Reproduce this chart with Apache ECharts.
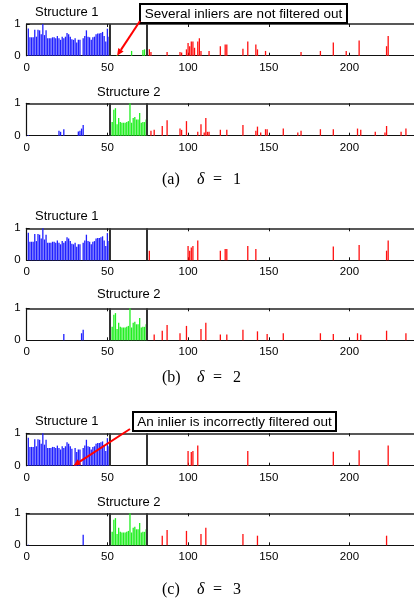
<!DOCTYPE html>
<html><head><meta charset="utf-8">
<script src="https://cdn.jsdelivr.net/npm/echarts@6/dist/echarts.min.js"></script>
<style>html,body{margin:0;padding:0;background:#fff}#c{width:414px;height:605px}</style>
</head><body><div id="c"></div>
<script>
// ---------- data ----------
const xTickLabels = [0, 50, 100, 150, 200];
const yTickLabels = [0, 1];
const titles = ['Structure 1', 'Structure 2'];
const captions = ['(a)', '(b)', '(c)'];
const deltas = [1, 2, 3];

// scores of points 1..51 for structure 1
const s1Blue = [0.86,0.58,0.58,0.58,0.82,0.6,0.82,0.8,0.68,1.0,0.65,0.8,0.55,0.55,0.55,0.58,0.58,0.55,0.62,0.55,0.5,0.6,0.55,0.6,0.72,0.68,0.6,0.52,0.5,0.55,0.42,0.5,0.5,0,0.55,0.62,0.8,0.6,0.58,0.5,0.58,0.6,0.68,0.7,0.7,0.72,0.75,0.62,0.45,0.85,0.6];
// points 52..74 for structure 2
const s2Green = [0.42,0.42,0.8,0.85,0.35,0.55,0.42,0.4,0.4,0.4,0.42,0.45,1.0,0.4,0.55,0.58,0.5,0.5,0.7,0.4,0.42,0.42,0.5];

// (a) delta = 1
const aTopIdx = [56,65,72,73,76,77,87,95,96,99,100,101,102,103,104,106,107,108,113,120,123,124,134,137,142,143,148,170,182,190,198,206,223,224];
const aTopVal = [0.02,0.15,0.18,0.2,0.2,0.12,0.12,0.12,0.1,0.2,0.4,0.3,0.45,0.45,0.25,0.45,0.55,0.15,0.15,0.3,0.35,0.35,0.22,0.45,0.35,0.2,0.15,0.12,0.15,0.42,0.15,0.48,0.3,0.62];
const aBotIdx = [1,20,21,23,32,33,34,35,77,79,84,87,95,96,99,106,108,110,111,112,113,120,124,134,142,143,145,148,149,159,168,170,182,190,205,207,216,222,223,232,235];
const aBotVal = [0.02,0.15,0.12,0.2,0.13,0.15,0.22,0.33,0.15,0.18,0.3,0.48,0.22,0.18,0.45,0.12,0.35,0.1,0.55,0.12,0.12,0.18,0.18,0.33,0.15,0.28,0.1,0.2,0.2,0.22,0.1,0.15,0.2,0.2,0.22,0.18,0.12,0.1,0.3,0.12,0.22];

// (b) delta = 2
const bTopIdx = [76,100,101,102,103,106,120,123,124,137,142,190,206,223,224];
const bTopVal = [0.3,0.45,0.3,0.4,0.45,0.62,0.3,0.35,0.35,0.45,0.35,0.43,0.48,0.3,0.62];
const bBotIdx = [23,34,35,79,84,87,95,99,108,111,120,124,134,143,149,159,182,190,205,207,223,235];
const bBotVal = [0.2,0.22,0.33,0.18,0.3,0.48,0.22,0.45,0.35,0.55,0.18,0.18,0.33,0.28,0.2,0.22,0.22,0.2,0.22,0.17,0.3,0.22];

// (c) delta = 3
const cTopRemoved = [29];
const cTopIdx = [100,102,103,106,137,190,206,224];
const cTopVal = [0.45,0.42,0.45,0.62,0.45,0.43,0.48,0.62];
const cBotIdx = [1,35,84,87,99,108,111,134,143,223];
const cBotVal = [0.02,0.33,0.3,0.48,0.45,0.35,0.55,0.35,0.3,0.3];

const separators = [51.5, 74.5];
const notes = ['Several inliers are not filtered out', 'An inlier is incorrectly filtered out'];
const noteTargets = [[56, 0], [29, 0]];

// ---------- build ----------
function pairs(idx, val) { return idx.map((d, i) => [d, val[i]]); }
function blueStruct1(removed) {
  return s1Blue.map((v, i) => [i + 1, (removed || []).includes(i + 1) ? 0 : v]).filter(p => p[1] > 0);
}
function greenStruct2() { return s2Green.map((v, i) => [52 + i, v]); }

const panelData = [
  blueStruct1().concat(pairs(aTopIdx, aTopVal)),
  greenStruct2().concat(pairs(aBotIdx, aBotVal)),
  blueStruct1().concat(pairs(bTopIdx, bTopVal)),
  greenStruct2().concat(pairs(bBotIdx, bBotVal)),
  blueStruct1(cTopRemoved).concat(pairs(cTopIdx, cTopVal)),
  greenStruct2().concat(pairs(cBotIdx, cBotVal))
];

const L = 26.7, W = 388.8;
const tops = [24, 103.3, 228.3, 308.3, 433.3, 513.3];
const heights = [31.7, 32.4, 32, 32, 32.4, 32];
const titleGap = [11, 10, 11, 13.3, 11, 10];
const FONT = '"Liberation Sans", Arial, Helvetica, sans-serif';
const SERIF = '"Liberation Serif", "Times New Roman", serif';

const grid = [], xAxis = [], yAxis = [], series = [];
tops.forEach((t, i) => {
  grid.push({ left: L, top: t, width: W, height: heights[i], containLabel: false });
  const axLine = { show: true, lineStyle: { color: '#111', width: 1.2 } };
  xAxis.push({
    type: 'value', gridIndex: i, position: 'bottom', min: 0, max: 240, interval: 50,
    axisLine: axLine, axisTick: { show: true, inside: true, length: 3, lineStyle: { color: '#111' } },
    axisLabel: { color: '#000', fontSize: 11.5, fontFamily: FONT, margin: 6, showMaxLabel: false,
      formatter: v => xTickLabels.includes(v) ? String(v) : '' },
    splitLine: { show: false }
  });
  xAxis.push({
    type: 'value', gridIndex: i, position: 'top', min: 0, max: 240, interval: 50,
    axisLine: { show: true, lineStyle: { color: '#222', width: 1.5 } },
    axisTick: { show: true, inside: true, length: 3, lineStyle: { color: '#111' } },
    axisLabel: { show: false }, splitLine: { show: false }
  });
  yAxis.push({
    type: 'value', gridIndex: i, min: 0, max: 1, interval: 1,
    axisLine: axLine, axisTick: { show: true, inside: true, length: 3, lineStyle: { color: '#111' } },
    axisLabel: { color: '#000', fontSize: 11.5, fontFamily: FONT, margin: 6,
      formatter: v => yTickLabels.includes(v) ? String(v) : '' },
    splitLine: { show: false }
  });
  series.push({
    type: 'bar', xAxisIndex: 2 * i, yAxisIndex: i, barWidth: 1.3, animation: false,
    data: panelData[i],
    itemStyle: { color: p => p.value[0] <= 51 ? '#1f1fff' : (p.value[0] <= 74 ? '#22ee22' : '#ff1010') },
    markLine: {
      silent: true, symbol: 'none', animation: false,
      label: { show: false },
      lineStyle: { color: '#333', width: 2, type: 'solid' },
      data: separators.map(s => ({ xAxis: s }))
    }
  });
});

const titleDefs = [];
const titleX = [35, 97];
tops.forEach((t, i) => {
  const k = i % 2;
  titleDefs.push({ text: titles[k], left: titleX[k], top: t - titleGap[i] - 7, padding: 0,
    textStyle: { fontSize: 13, fontWeight: 'normal', color: '#000', fontFamily: FONT } });
});

const chart = echarts.init(document.getElementById('c'), null, { renderer: 'canvas' });
chart.setOption({ animation: false, title: titleDefs, grid, xAxis, yAxis, series });

// captions + annotations
const capY = [180, 378, 590];
const capParts = [[162, 'n', null], [197, 'd', 'δ'], [213, 'n', '='], [233, 'n', null]];
const graphic = [];
captions.forEach((c, i) => {
  capParts.forEach((p, j) => {
    const txt = j === 0 ? c : (j === 3 ? String(deltas[i]) : p[2]);
    graphic.push({ type: 'text', x: p[0], y: capY[i],
      style: { text: txt, fontSize: 16, fontFamily: SERIF, fontStyle: p[1] === 'd' ? 'italic' : 'normal',
        fill: '#000', verticalAlign: 'middle', align: 'left' } });
  });
});

const boxes = [{ x: 140, y: 4, w: 207, h: 19, grid: 0, from: [140, 21] },
               { x: 133, y: 412, w: 203, h: 19, grid: 4, from: [130, 429] }];
boxes.forEach((b, i) => {
  graphic.push({ type: 'rect', shape: { x: b.x, y: b.y, width: b.w, height: b.h },
    style: { fill: '#fff', stroke: '#000', lineWidth: 2 }, z: 10 });
  graphic.push({ type: 'text', x: b.x + b.w / 2, y: b.y + b.h / 2 + 0.5, z: 11,
    style: { text: notes[i], fontSize: 13.5, fontFamily: FONT, fill: '#000', align: 'center', verticalAlign: 'middle' } });
  const tip = chart.convertToPixel({ gridIndex: b.grid }, noteTargets[i]);
  const sx = b.from[0], sy = b.from[1];
  const dx = tip[0] - sx, dy = tip[1] - sy, len = Math.hypot(dx, dy);
  const ux = dx / len, uy = dy / len, nx = -uy, ny = ux, HL = 7, HW = 3.2;
  const bx = tip[0] - ux * HL, by = tip[1] - uy * HL;
  graphic.push({ type: 'line', z: 12, shape: { x1: sx, y1: sy, x2: bx, y2: by },
    style: { stroke: '#ff0000', lineWidth: 2 } });
  graphic.push({ type: 'polygon', z: 12, shape: { points: [[tip[0], tip[1]], [bx + nx * HW, by + ny * HW], [bx - nx * HW, by - ny * HW]] },
    style: { fill: '#ff0000' } });
});
chart.setOption({ graphic });
</script></body></html>
